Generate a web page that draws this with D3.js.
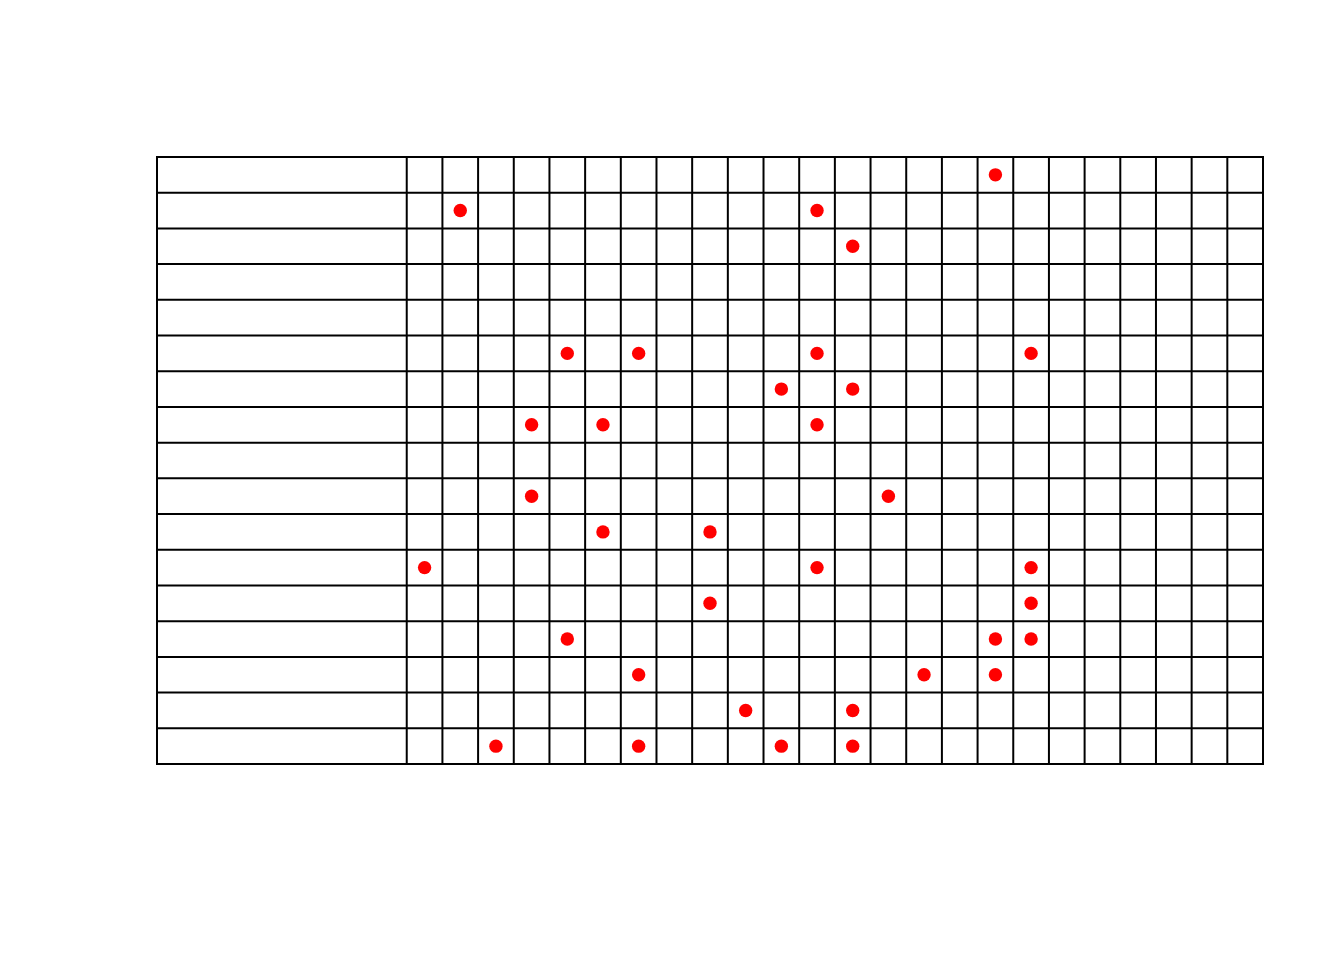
<!DOCTYPE html>
<html>
<head>
<meta charset="utf-8">
<script src="https://cdn.jsdelivr.net/npm/d3@7"></script>
<style>
html,body{margin:0;padding:0;background:#fff;}
svg{display:block;}
</style>
</head>
<body>
<svg id="chart" width="1344" height="960"></svg>
<script>
// Grid structure: one wide label column (empty labels) + 24 value columns, 17 rows
const rowLabels = ["","","","","","","","","","","","","","","","",""];
const columns = d3.range(24);
const labelColumnUnits = 7;
// Column indices (0-based among the 24 value columns) holding a red dot, per row (top to bottom)
const row01 = [16];
const row02 = [1, 11];
const row03 = [12];
const row04 = [];
const row05 = [];
const row06 = [4, 6, 11, 17];
const row07 = [10, 12];
const row08 = [3, 5, 11];
const row09 = [];
const row10 = [3, 13];
const row11 = [5, 8];
const row12 = [0, 11, 17];
const row13 = [8, 17];
const row14 = [4, 16, 17];
const row15 = [6, 14, 16];
const row16 = [9, 12];
const row17 = [2, 6, 10, 12];
const dotRows = [row01,row02,row03,row04,row05,row06,row07,row08,row09,row10,row11,row12,row13,row14,row15,row16,row17];

(function(){
const svg = d3.select("#chart");
const gLeft = 157, gRight = 1263, gTop = 157, gBottom = 764;
const totalUnits = labelColumnUnits + columns.length;
const x = d3.scaleLinear().domain([0, totalUnits]).range([gLeft, gRight]);
const y = d3.scaleLinear().domain([0, rowLabels.length]).range([gTop, gBottom]);

const dots = [];
dotRows.forEach((r, ri) => r.forEach(c => dots.push({row: ri, col: c})));

const g = svg.append("g");

// horizontal lines
g.selectAll("line.h").data(d3.range(rowLabels.length + 1)).join("line")
  .attr("class","h")
  .attr("x1", x(0)).attr("x2", x(totalUnits))
  .attr("y1", d => y(d)).attr("y2", d => y(d))
  .attr("stroke","#000").attr("stroke-width",2)
  .attr("stroke-linecap","square");

// vertical lines: left border, then each column boundary
const vlines = [0].concat(d3.range(columns.length + 1).map(i => labelColumnUnits + i));
g.selectAll("line.v").data(vlines).join("line")
  .attr("class","v")
  .attr("x1", d => x(d)).attr("x2", d => x(d))
  .attr("y1", y(0)).attr("y2", y(rowLabels.length))
  .attr("stroke","#000").attr("stroke-width",2)
  .attr("stroke-linecap","square");

// row labels (empty in reference)
g.selectAll("text.lab").data(rowLabels).join("text")
  .attr("class","lab")
  .attr("x", x(0.2)).attr("y", (d,i) => y(i + 0.5))
  .attr("dominant-baseline","central")
  .attr("font-family","Liberation Sans, Arial, sans-serif")
  .attr("font-size",14)
  .text(d => d);

// dots
g.selectAll("circle").data(dots).join("circle")
  .attr("cx", d => x(labelColumnUnits + d.col + 0.5))
  .attr("cy", d => y(d.row + 0.5))
  .attr("r", 6.7)
  .attr("fill","#ff0000");
})();
</script>
</body>
</html>
